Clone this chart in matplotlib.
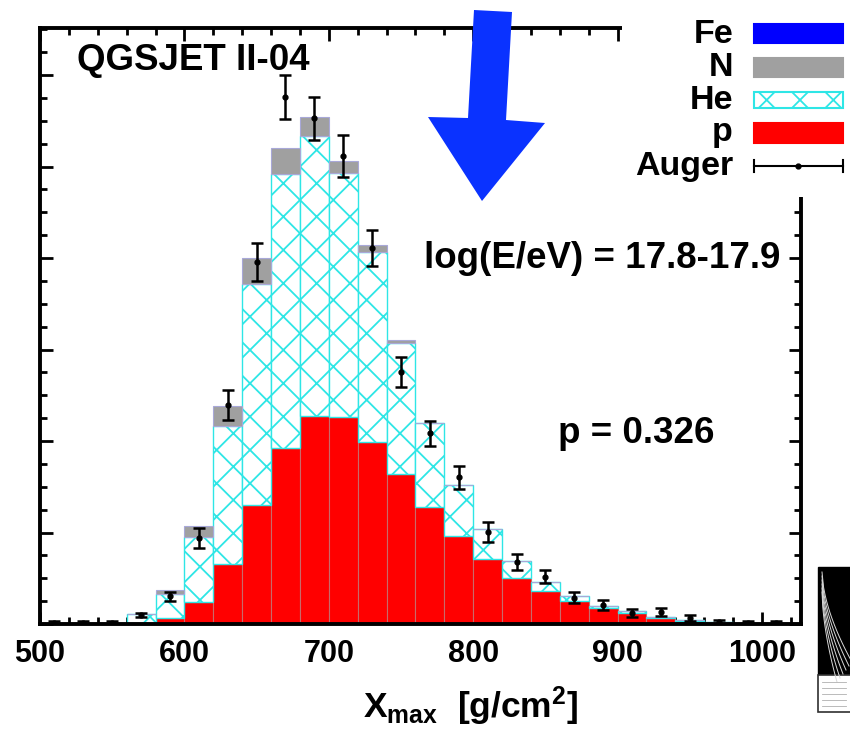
import numpy as np
import matplotlib
matplotlib.use('Agg')
import matplotlib.pyplot as plt
from matplotlib.patches import Polygon, Rectangle
from matplotlib.lines import Line2D
from matplotlib.ticker import MultipleLocator

plt.rcParams['font.family'] = ['Liberation Sans', 'DejaVu Sans']
plt.rcParams['font.weight'] = 'bold'
plt.rcParams['mathtext.fontset'] = 'custom'
plt.rcParams['mathtext.rm'] = 'Liberation Sans:bold'
plt.rcParams['mathtext.it'] = 'Liberation Sans:bold'
plt.rcParams['mathtext.bf'] = 'Liberation Sans:bold'
plt.rcParams['hatch.linewidth'] = 1.3

# bin left edges (g/cm2), 20 g/cm2 wide
edges = np.arange(500, 1020, 20)

# fractions per bin
frac_p = [0.0, 0.0, 0.0, 0.0002, 0.0013, 0.0048, 0.0131, 0.0260, 0.0385, 0.0455,
          0.0452, 0.0398, 0.0328, 0.0256, 0.0192, 0.0142, 0.0101, 0.0072, 0.0050,
          0.0035, 0.0024, 0.0013, 0.0007, 0.0002, 0.0001, 0.0]
frac_he = [0.0, 0.0, 0.0001, 0.0020, 0.0052, 0.0142, 0.0302, 0.0483, 0.0599, 0.0612,
           0.0533, 0.0415, 0.0286, 0.0184, 0.0111, 0.0066, 0.0037, 0.0020, 0.0011,
           0.0004, 0.0004, 0.0002, 0.0002, 0.0002, 0.0, 0.0]
frac_n = [0.0, 0.0, 0.0, 0.0, 0.0009, 0.0024, 0.0044, 0.0057, 0.0057, 0.0042,
          0.0028, 0.0015, 0.0007, 0.0, 0.0, 0.0, 0.0, 0.0, 0.0,
          0.0, 0.0, 0.0, 0.0, 0.0, 0.0, 0.0]
frac_fe = [0.0] * 26

auger = [0.0003, 0.0003, 0.0003, 0.0020, 0.0061, 0.0188, 0.0479, 0.0791, 0.1152, 0.1106,
         0.1023, 0.0822, 0.0551, 0.0417, 0.0321, 0.0201, 0.0136, 0.0103, 0.0057,
         0.0042, 0.0024, 0.0026, 0.0013, 0.0004, 0.0003, 0.0003]
auger_err = [0.0003, 0.0003, 0.0003, 0.0005, 0.0010, 0.0021, 0.0032, 0.0042, 0.0049, 0.0047,
             0.0046, 0.0040, 0.0033, 0.0027, 0.0025, 0.0021, 0.0018, 0.0014, 0.0012,
             0.0011, 0.0009, 0.0009, 0.0007, 0.0004, 0.0003, 0.0003]

W, H = 850, 730


def px(x, y):
    # pixel position -> figure fraction
    return x / W, 1 - y / H


fig = plt.figure(figsize=(8.5, 7.3), dpi=100)
ax = fig.add_axes([40 / W, 106 / H, 761 / W, 596 / H])

p = np.array(frac_p)
he = np.array(frac_he)
n = np.array(frac_n)
fe = np.array(frac_fe)

ax.bar(edges, p, width=20, align='edge', color='#ff0000',
       edgecolor='#c86a6a', linewidth=0.8, zorder=2)
ax.bar(edges, he, width=20, bottom=p, align='edge', facecolor='white',
       edgecolor='#2ee6e6', hatch='x', linewidth=1.0, zorder=2)
ax.bar(edges, n, width=20, bottom=p + he, align='edge', color='#a0a0a0',
       edgecolor='#a8a8d8', linewidth=0.8, zorder=2)
ax.bar(edges, fe, width=20, bottom=p + he + n, align='edge', color='#0000ff',
       linewidth=0, zorder=2)

ax.errorbar(edges + 10, auger, yerr=auger_err, fmt='o', color='black',
            ms=3.5, capsize=4.5, elinewidth=1.8, capthick=1.8, zorder=4)

ax.set_xlim(500, 1027)
ax.set_ylim(0, 0.1303)
ax.set_xticks(np.arange(500, 1001, 100))
ax.xaxis.set_minor_locator(MultipleLocator(20))
ax.yaxis.set_major_locator(MultipleLocator(0.02))
ax.yaxis.set_minor_locator(MultipleLocator(0.005))
ax.set_yticklabels([])
ax.tick_params(which='both', direction='in', top=True, right=True, width=2.0)
ax.tick_params(which='major', length=9)
ax.tick_params(which='minor', length=5)
ax.tick_params(axis='x', labelsize=22, pad=11)
for lab in ax.get_xticklabels():
    lab.set_fontweight('bold')
for sp in ax.spines.values():
    sp.set_linewidth(2.8)

fig.text(*px(77, 70), 'QGSJET II-04', fontsize=26.5, fontweight='bold', va='baseline')
fig.text(*px(780, 268), 'log(E/eV) = 17.8-17.9', fontsize=26.5, fontweight='bold',
         ha='right', va='baseline')
fig.text(*px(558, 443), 'p = 0.326', fontsize=26.5, fontweight='bold', va='baseline')
fig.text(*px(363, 718), r'X$_{\rm max}$  [g/cm$^{2}$]', fontsize=25.5,
         fontweight='bold', va='baseline')

# white patch hiding the top-right corner of the frame, legend sits on it
fig.patches.append(Rectangle(px(622, 197), 228 / W, 197 / H, transform=fig.transFigure,
                             facecolor='white', edgecolor='none', zorder=5))

# big blue arrow
arrow = [(474, 10), (512, 12), (506, 120), (545, 123), (482, 201), (428, 117), (468, 118)]
fig.patches.append(Polygon([px(x, y) for x, y in arrow], closed=True,
                           transform=fig.transFigure, facecolor='#0a32ff',
                           edgecolor='none', zorder=6))

# legend
names = ['Fe', 'N', 'He', 'p', 'Auger']
baselines = [43, 76, 109, 141, 175]
for name, yb in zip(names, baselines):
    fig.text(*px(733, yb), name, fontsize=24.5, fontweight='bold', ha='right',
             va='baseline', zorder=7)
swatches = [(24, 43, '#0000ff', '#0000ff', None),
            (58, 77, '#a0a0a0', '#a0a0a0', None),
            (92, 108, 'white', '#2ee6e6', 'x'),
            (123, 143, '#ff0000', '#ff0000', None)]
for y0, y1, fc, ec, hatch in swatches:
    fig.patches.append(Rectangle(px(754, y1), 89 / W, (y1 - y0) / H,
                                 transform=fig.transFigure, facecolor=fc,
                                 edgecolor=ec, hatch=hatch, linewidth=1.5, zorder=7))
yl = 1 - 166 / H
fig.lines.append(Line2D([754 / W, 843 / W], [yl, yl], transform=fig.transFigure,
                        color='black', lw=1.5, zorder=7))
for xc in (754, 843):
    fig.lines.append(Line2D([xc / W, xc / W], [yl - 6 / H, yl + 6 / H],
                            transform=fig.transFigure, color='black', lw=1.5, zorder=7))
fig.lines.append(Line2D([798 / W], [yl], transform=fig.transFigure, marker='o',
                        ms=3.5, color='black', zorder=7))

# cut-off picture at the bottom right edge
fig.patches.append(Rectangle(px(818, 675), 40 / W, 108 / H, transform=fig.transFigure,
                             facecolor='black', edgecolor='black', lw=1, zorder=3))
fig.patches.append(Rectangle(px(818, 712), 40 / W, 37 / H, transform=fig.transFigure,
                             facecolor='white', edgecolor='#303030', lw=1.2, zorder=3))
for k in range(6):
    t = np.linspace(0, 1, 20)
    xs = 822 + t * (30 - 3 * k)
    ys = 572 + 90 * t ** 0.6 + 4 * k
    fig.lines.append(Line2D(xs / W, 1 - ys / H, transform=fig.transFigure,
                            color='#d8d8d8', lw=0.7, zorder=4))
for k in range(5):
    yy = 682 + 6 * k
    fig.lines.append(Line2D([822 / W, 846 / W], [1 - yy / H, 1 - yy / H],
                            transform=fig.transFigure, color='#b0b0b0', lw=0.6, zorder=4))

fig.savefig('out.png', dpi=100)
